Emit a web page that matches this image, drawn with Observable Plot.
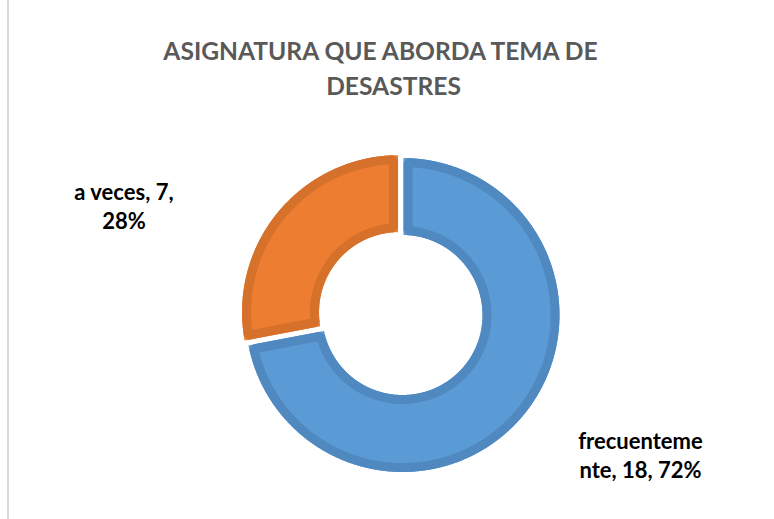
<!DOCTYPE html>
<html>
<head>
<meta charset="utf-8">
<script src="https://cdn.jsdelivr.net/npm/d3@7"></script>
<script src="https://cdn.jsdelivr.net/npm/@observablehq/plot@0.6"></script>
<style>
  html, body { margin: 0; padding: 0; background: #fff; }
  #wrap { position: relative; width: 774px; height: 519px; overflow: hidden; }
  #edge { position: absolute; left: 7px; top: 0; width: 2px; height: 519px; background: #d9d9d9; }
</style>
</head>
<body>
<div id="wrap"><div id="edge"></div></div>
<script>
// ---- data ----
const categories = ["frecuentemente", "a veces"];
const counts = [18, 7];
const percents = ["72%", "28%"];
const labelLines = [["frecuenteme", "nte, 18, 72%"], ["a veces, 7,", "28%"]];
const titleLines = ["ASIGNATURA QUE ABORDA TEMA DE", "DESASTRES"];

// ---- style / layout ----
const fillColors = ["#5b9bd5", "#ed7d31"];
const strokeColors = ["#4f89c0", "#d6712b"];
const W = 774, H = 519;
const cx = 402, cy = 314.5, R = 157, r = 80;   // donut layout in px
const sw = 9, gap = 1;                          // border width, half gap
const explode = [0, 4.5];                       // px offset along mid-angle
const labelPos = [{x: 1.516, y: -0.889}, {x: -1.774, y: 0.697}]; // unit coords

const arcs = d3.pie().sort(null).value(d => d)(counts);

function slicePoly(a0, a1, Ro, Ri, h, off, id) {
  const pts = [];
  const step = Math.PI / 720;
  const o0 = a0 + Math.asin(h / Ro), o1 = a1 - Math.asin(h / Ro);
  const i0 = a0 + Math.asin(h / Ri), i1 = a1 - Math.asin(h / Ri);
  const mid = (a0 + a1) / 2;
  const ox = off * Math.sin(mid), oy = off * Math.cos(mid);
  const push = (a, rad) => pts.push({x: (rad * Math.sin(a) + ox) / R, y: (rad * Math.cos(a) + oy) / R, id});
  const om = (o0 + o1) / 2;
  for (let a = om; a < o1; a += step) push(a, Ro);
  push(o1, Ro);
  for (let a = i1; a > i0; a -= step) push(a, Ri);
  push(i0, Ri);
  for (let a = o0; a < om; a += step) push(a, Ro);
  push(om, Ro);
  return pts;
}

const marks = [];
arcs.forEach((a, i) => {
  const fillPts = slicePoly(a.startAngle, a.endAngle, R, r, gap, explode[i], i);
  const strokePts = slicePoly(a.startAngle, a.endAngle, R - sw / 2, r + sw / 2, gap + sw / 2, explode[i], i);
  marks.push(Plot.line(fillPts, {x: "x", y: "y", fill: fillColors[i], stroke: "none", curve: "linear"}));
  marks.push(Plot.line(strokePts, {x: "x", y: "y", fill: "none", stroke: strokeColors[i], strokeWidth: sw, strokeLinejoin: "miter", strokeLinecap: "round", curve: "linear"}));
});

const labels = categories.map((c, i) => ({
  text: labelLines[i].join("\n"), x: labelPos[i].x, y: labelPos[i].y
}));
marks.push(Plot.text(labels, {
  x: "x", y: "y", text: "text", fill: "#000", fontSize: 22, fontWeight: "bold",
  fontFamily: "Lato", lineHeight: 1.3, textAnchor: "middle"
}));

marks.push(Plot.text([titleLines[0]], {
  frameAnchor: "top-left", text: d => d, dx: 380, dy: 52, textAnchor: "middle",
  fill: "#595959", fontSize: 24.6, fontWeight: "bold", fontFamily: "Lato", lineAnchor: "middle"
}));
marks.push(Plot.text([titleLines[1]], {
  frameAnchor: "top-left", text: d => d, dx: 393, dy: 87, textAnchor: "middle",
  fill: "#595959", fontSize: 24.6, fontWeight: "bold", fontFamily: "Lato", lineAnchor: "middle"
}));

const chart = Plot.plot({
  width: W, height: H,
  margin: 0,
  x: {domain: [-1, 1], range: [cx - R, cx + R], axis: null},
  y: {domain: [-1, 1], range: [cy + R, cy - R], axis: null},
  style: {background: "transparent", overflow: "visible"},
  marks
});
document.getElementById("wrap").appendChild(chart);
</script>
</body>
</html>
